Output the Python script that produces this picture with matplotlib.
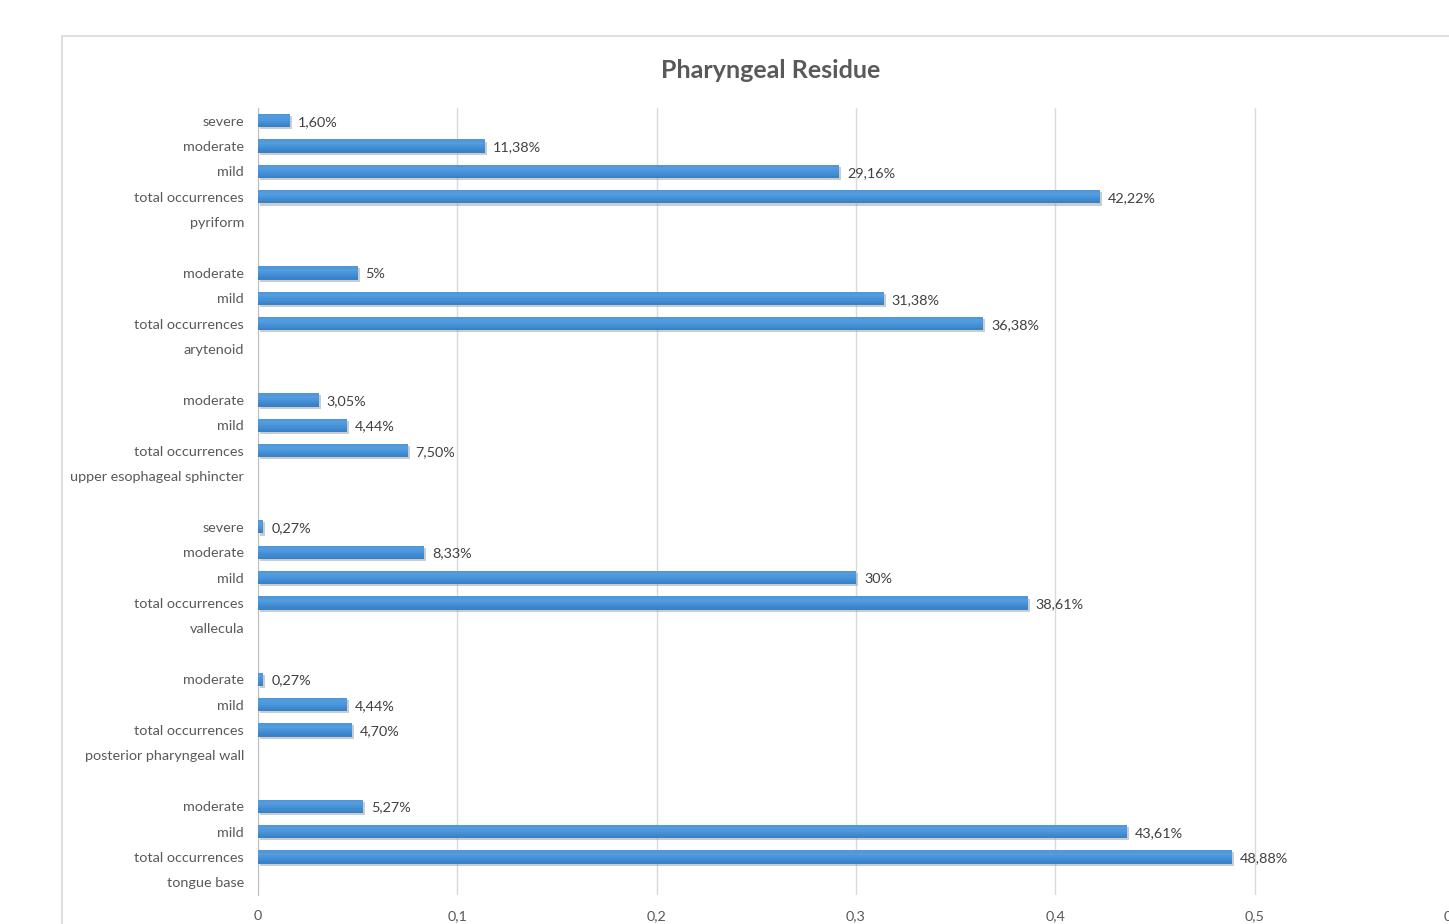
import matplotlib.pyplot as plt
import matplotlib.patheffects as pe
from matplotlib.patches import Rectangle


# rows from bottom to top, None = no bar
categories = ['tongue base', 'total occurrences', 'mild', 'moderate', '',
              'posterior pharyngeal wall', 'total occurrences', 'mild', 'moderate', '',
              'vallecula', 'total occurrences', 'mild', 'moderate', 'severe', '',
              'upper esophageal sphincter', 'total occurrences', 'mild', 'moderate', '',
              'arytenoid', 'total occurrences', 'mild', 'moderate', '',
              'pyriform', 'total occurrences', 'mild', 'moderate', 'severe']
values = [None, 0.4888, 0.4361, 0.0527, None,
          None, 0.0470, 0.0444, 0.0027, None,
          None, 0.3861, 0.30, 0.0833, 0.0027, None,
          None, 0.0750, 0.0444, 0.0305, None,
          None, 0.3638, 0.3138, 0.05, None,
          None, 0.4222, 0.2916, 0.1138, 0.0160]
value_labels = ['', '48,88%', '43,61%', '5,27%', '',
                '', '4,70%', '4,44%', '0,27%', '',
                '', '38,61%', '30%', '8,33%', '0,27%', '',
                '', '7,50%', '4,44%', '3,05%', '',
                '', '36,38%', '31,38%', '5%', '',
                '', '42,22%', '29,16%', '11,38%', '1,60%']
xticks = [0, 0.1, 0.2, 0.3, 0.4, 0.5, 0.6]
xtick_labels = ['0', '0,1', '0,2', '0,3', '0,4', '0,5', '0,6']

W, H = 1449, 924
plt.rcParams['font.family'] = ['Lato', 'DejaVu Sans']
fig = plt.figure(figsize=(W / 100, H / 100), dpi=100)

# chart frame (cropped at right/bottom)
fig.patches.append(Rectangle((62 / W, -0.1), 1.2, (H - 36) / H + 0.1,
                             transform=fig.transFigure, fill=False,
                             edgecolor='#d9d9d9', linewidth=1.2))

ax = fig.add_axes([258 / W, (H - 895) / H, (1454 - 258) / W, (895 - 108) / H])
ax.set_xlim(0, 0.6)
ax.set_ylim(-0.5, len(categories) - 0.5)

BAR_H = 0.52
ys = [i for i, v in enumerate(values) if v is not None]
vs = [v for v in values if v is not None]
bars = ax.barh(ys, vs, height=BAR_H, color='#3a82c8', zorder=3)
# fake gradient: darker at the bottom, lighter towards the top
bands = ['#3a82c8', '#3f89cf', '#4690d6', '#4d97dc', '#529cdf', '#4f98da']
for b in bars:
    b.set_path_effects([pe.SimplePatchShadow(offset=(1.5, -1.5), shadow_rgbFace='#9a9a9a', alpha=0.5),
                        pe.Normal()])
    x0, y0, w = b.get_x(), b.get_y(), b.get_width()
    bh = BAR_H / len(bands)
    for k, c in enumerate(bands):
        ax.add_patch(Rectangle((x0, y0 + k * bh), w, bh, color=c, lw=0, zorder=4))

for y, v in enumerate(values):
    if v is not None:
        ax.text(v + 0.004, y - 0.05, value_labels[y], va='center', ha='left',
                fontsize=10.4, color='#404040', zorder=5)

ax.set_yticks(range(len(categories)))
ax.set_yticklabels(categories, fontsize=10.4, color='#595959')
ax.set_xticks(xticks)
ax.set_xticklabels(xtick_labels, fontsize=10.4, color='#595959')
ax.tick_params(axis='y', length=0, pad=10)
ax.tick_params(axis='x', length=0, pad=11)
ax.grid(axis='x', color='#d9d9d9', linewidth=1, zorder=0)
for s in ['top', 'right', 'bottom']:
    ax.spines[s].set_visible(False)
ax.spines['left'].set_color('#bfbfbf')

fig.text(771 / W, 1 - 70 / H, 'Pharyngeal Residue', ha='center', va='center',
         fontsize=18, fontweight='bold', color='#595959')

fig.savefig('out.png', dpi=100)
